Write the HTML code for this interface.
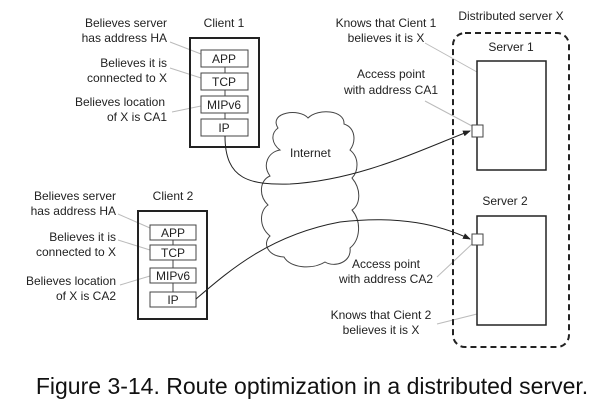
<!DOCTYPE html>
<html><head><meta charset="utf-8"><style>
html,body{margin:0;padding:0;background:#fff;width:600px;height:407px;overflow:hidden}
svg text{font-family:"Liberation Sans",sans-serif;font-size:12px;fill:#222}
</style></head><body>
<svg width="600" height="407" viewBox="0 0 600 407" xmlns="http://www.w3.org/2000/svg">
<defs><marker id="ar" markerWidth="8" markerHeight="6" refX="7" refY="3" orient="auto"><path d="M0,0 L8,3 L0,6 z" fill="#222"/></marker></defs>
<g stroke="#bbb" stroke-width="1" fill="none">
<line x1="170" y1="42" x2="201" y2="54"/>
<line x1="170" y1="68" x2="201" y2="78"/>
<line x1="172" y1="112" x2="201" y2="106"/>
<line x1="118" y1="214" x2="150" y2="228"/>
<line x1="118" y1="240" x2="150" y2="250"/>
<line x1="120" y1="285" x2="150" y2="276"/>
<line x1="425" y1="43" x2="477" y2="72"/>
<line x1="425" y1="101" x2="472" y2="126"/>
<line x1="437" y1="277" x2="472" y2="244"/>
<line x1="437" y1="324" x2="477" y2="314"/>
</g>
<rect x="190" y="38" width="69" height="109" fill="none" stroke="#222" stroke-width="2"/>
<line x1="225" y1="50" x2="225" y2="136" stroke="#444"/>
<g fill="#fff" stroke="#444">
<rect x="201" y="50" width="47" height="17"/><rect x="201" y="73" width="47" height="17"/>
<rect x="201" y="96" width="47" height="17"/><rect x="201" y="119" width="47" height="17"/>
</g>
<g text-anchor="middle">
<text x="224" y="63">APP</text><text x="224" y="86">TCP</text><text x="224" y="109">MIPv6</text><text x="224" y="132">IP</text>
<text x="224" y="27">Client 1</text>
</g>
<g text-anchor="end">
<text x="167" y="27">Believes server</text><text x="167" y="42">has address HA</text>
<text x="167" y="67">Believes it is</text><text x="167" y="82">connected to X</text>
<text x="165" y="106">Believes location</text><text x="167" y="121">of X is CA1</text>
</g>
<rect x="138" y="211" width="69" height="108" fill="none" stroke="#222" stroke-width="2"/>
<line x1="173" y1="225" x2="173" y2="307" stroke="#444"/>
<g fill="#fff" stroke="#444">
<rect x="150" y="225" width="46" height="15"/><rect x="150" y="245" width="46" height="15"/>
<rect x="150" y="268" width="46" height="15"/><rect x="150" y="292" width="46" height="15"/>
</g>
<g text-anchor="middle">
<text x="173" y="237">APP</text><text x="173" y="257">TCP</text><text x="173" y="280">MIPv6</text><text x="173" y="304">IP</text>
<text x="173" y="200">Client 2</text>
</g>
<g text-anchor="end">
<text x="116" y="200">Believes server</text><text x="116" y="215">has address HA</text>
<text x="116" y="241">Believes it is</text><text x="116" y="256">connected to X</text>
<text x="116" y="285">Believes location</text><text x="116" y="300">of X is CA2</text>
</g>
<path d="M278,128 C268,112 300,108 308,118 C318,108 345,110 344,124 C356,128 356,142 350,150 C360,158 358,172 352,178 C362,190 360,205 352,210 C362,222 360,240 350,248 C352,262 335,268 325,262 C312,270 290,268 284,257 C268,256 262,244 270,236 C258,226 260,210 268,205 C258,195 260,180 270,176 C262,165 268,152 280,150 C272,144 270,134 278,128 Z" fill="#fff" stroke="#444" stroke-width="1"/>
<text x="290" y="157">Internet</text>
<rect x="453" y="33" width="116" height="314" rx="12" fill="none" stroke="#222" stroke-width="2" stroke-dasharray="6,4"/>
<text x="511" y="20" text-anchor="middle">Distributed server X</text>
<rect x="477" y="61" width="69" height="109" fill="#fff" stroke="#222" stroke-width="1.5"/>
<rect x="477" y="216" width="69" height="109" fill="#fff" stroke="#222" stroke-width="1.5"/>
<text x="511" y="51" text-anchor="middle">Server 1</text>
<text x="505" y="205" text-anchor="middle">Server 2</text>
<rect x="472" y="125" width="11" height="12" fill="#fff" stroke="#444"/>
<rect x="472" y="234" width="11" height="11" fill="#fff" stroke="#444"/>
<g text-anchor="middle">
<text x="386" y="27">Knows that Cient 1</text><text x="386" y="42">believes it is X</text>
<text x="391" y="78">Access point</text><text x="391" y="94">with address CA1</text>
<text x="386" y="268">Access point</text><text x="386" y="283">with address CA2</text>
<text x="381" y="319">Knows that Cient 2</text><text x="381" y="334">believes it is X</text>
</g>
<path d="M225,136 C225,180 250,185 290,184 C360,180 420,150 470,131" fill="none" stroke="#222" stroke-width="1" marker-end="url(#ar)"/>
<path d="M196,299 C230,270 270,235 340,222 C400,215 440,225 470,239" fill="none" stroke="#222" stroke-width="1" marker-end="url(#ar)"/>
<text x="312" y="394" text-anchor="middle" style="font-size:23px;fill:#111">Figure 3-14. Route optimization in a distributed server.</text>
</svg>
</body></html>
